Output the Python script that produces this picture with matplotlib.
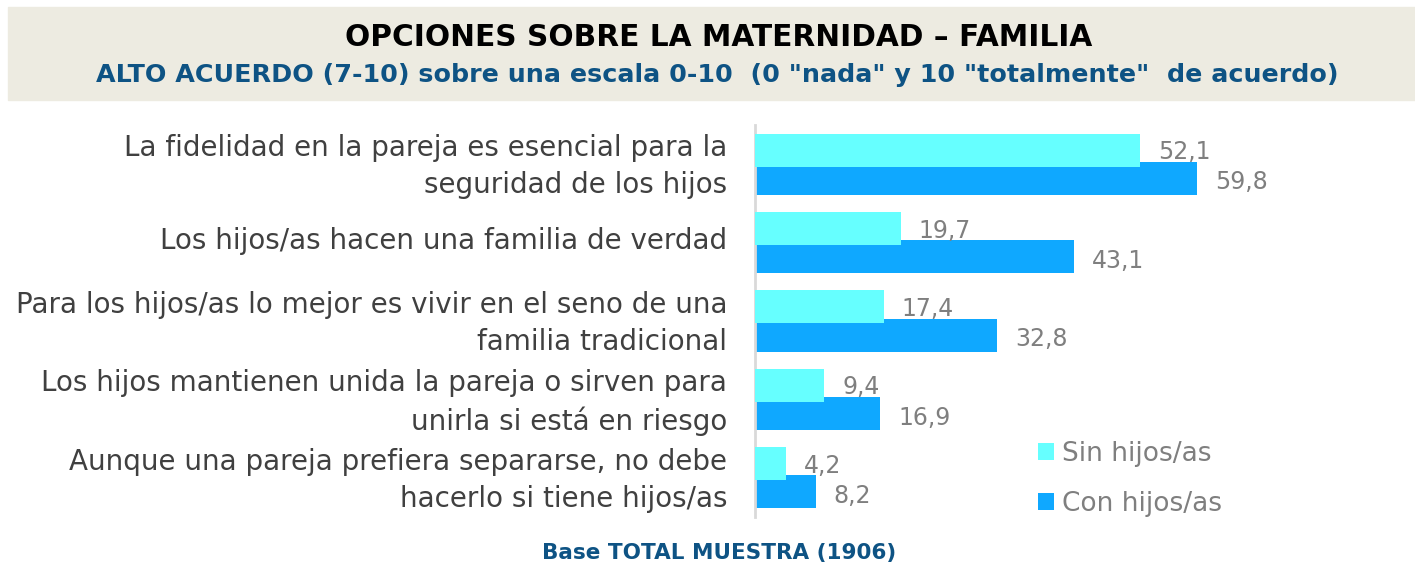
import matplotlib.pyplot as plt
import matplotlib.patches as mpatches
import matplotlib.transforms as mtransforms
import numpy as np

plt.rcParams['font.family'] = ['DejaVu Sans']

# data
categorias = [
    "La fidelidad en la pareja es esencial para la\nseguridad de los hijos",
    "Los hijos/as hacen una familia de verdad",
    "Para los hijos/as lo mejor es vivir en el seno de una\nfamilia tradicional",
    "Los hijos mantienen unida la pareja o sirven para\nunirla si está en riesgo",
    "Aunque una pareja prefiera separarse, no debe\nhacerlo si tiene hijos/as",
]
sin_hijos = [52.1, 19.7, 17.4, 9.4, 4.2]
con_hijos = [59.8, 43.1, 32.8, 16.9, 8.2]
series = ["Sin hijos/as", "Con hijos/as"]

col_sin = "#66FFFF"
col_con = "#0FA8FF"
gris = "#7F7F7F"
azul = "#0E5384"

fig = plt.figure(figsize=(14.15, 5.66), dpi=100)

# title band
fig.patches.append(mpatches.Rectangle((8 / 1415, 1 - 100 / 566), 1, 93 / 566,
                                      transform=fig.transFigure, color="#EDEBE1", zorder=0))
fig.text(0.508, 1 - 38 / 566, "OPCIONES SOBRE LA MATERNIDAD – FAMILIA", ha="center", va="center",
         fontsize=21.3, fontweight="bold", color="black")
fig.text(0.507, 1 - 75 / 566, 'ALTO ACUERDO (7-10) sobre una escala 0-10  (0 "nada" y 10 "totalmente"  de acuerdo)',
         ha="center", va="center", fontsize=18.3, fontweight="bold", color=azul)
fig.text(0.508, 1 - 553 / 566, "Base TOTAL MUESTRA (1906)", ha="center", va="center",
         fontsize=15.5, fontweight="bold", color=azul)

ax = fig.add_axes([755 / 1415, 49 / 566, 660 / 1415, 392 / 566])
y = np.arange(len(categorias))
h = 0.42
off = 0.18
b2 = ax.barh(y + off, con_hijos, height=h, color=col_con, label=series[1], zorder=2)
b1 = ax.barh(y - off, sin_hijos, height=h, color=col_sin, label=series[0], zorder=3)

for i in range(len(categorias)):
    ax.annotate(f"{sin_hijos[i]:.1f}".replace(".", ","), (sin_hijos[i], y[i] - off),
                xytext=(13, -1.5), textcoords="offset points", va="center", ha="left",
                fontsize=17, color=gris, zorder=4)
    ax.annotate(f"{con_hijos[i]:.1f}".replace(".", ","), (con_hijos[i], y[i] + off),
                xytext=(13, -3), textcoords="offset points", va="center", ha="left",
                fontsize=17, color=gris, zorder=4)

ax.set_xlim(0, 89.3)
ax.set_ylim(4.5, -0.5)
ax.set_yticks(y)
ax.set_yticklabels(categorias, fontsize=20, color="#404040", linespacing=1.42)
ax.tick_params(axis="y", length=0, pad=20)
# nudge category labels up a bit
shift = mtransforms.ScaledTranslation(0, 5 / 100, fig.dpi_scale_trans)
for lbl in ax.get_yticklabels():
    lbl.set_transform(lbl.get_transform() + shift)
ax.set_xticks([])
for s in ["top", "right", "bottom"]:
    ax.spines[s].set_visible(False)
ax.spines["left"].set_color("#D9D9D9")
ax.spines["left"].set_linewidth(2)

leg = fig.legend(handles=[b1, b2], labels=series, loc="center left",
                 bbox_to_anchor=(1014 / 1415, 1 - 479 / 566), frameon=False,
                 fontsize=19, handlelength=0.6, handleheight=0.6, handletextpad=0.3,
                 labelspacing=0.9, labelcolor=gris)

fig.savefig("out.png", dpi=100)
